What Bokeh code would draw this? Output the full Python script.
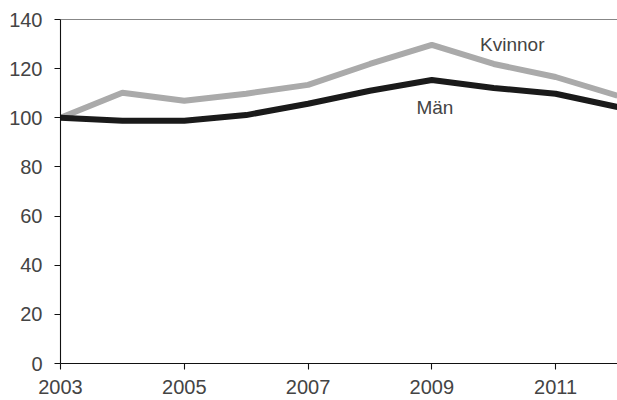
from bokeh.plotting import figure
from bokeh.models import Range1d, FixedTicker, Span
from bokeh.core.properties import value
from bokeh.embed import file_html
from bokeh.resources import INLINE

years = [2003, 2004, 2005, 2006, 2007, 2008, 2009, 2010, 2011, 2012]
kvinnor = [100, 110.2, 106.9, 109.8, 113.4, 121.9, 129.7, 121.9, 116.6, 109.0]
man = [100, 98.8, 98.8, 101.1, 105.7, 111.0, 115.4, 112.1, 109.8, 104.4]

x_ticks = [2003, 2005, 2007, 2009, 2011]
y_ticks = [0, 20, 40, 60, 80, 100, 120, 140]

label_texts = ["Kvinnor", "Män"]
label_x = [2010.3, 2009.05]
label_y = [129.8, 104.1]

FONT = "Liberation Sans"

p = figure(width=617, height=400, output_backend="svg", toolbar_location=None,
           x_range=Range1d(2003, 2012), y_range=Range1d(0, 140),
           min_border_left=60, min_border_right=0, min_border_top=19, min_border_bottom=37)
p.outline_line_color = None
p.xgrid.grid_line_color = None
p.ygrid.grid_line_color = None

for ax in (p.xaxis[0], p.yaxis[0]):
    ax.axis_line_color = "#111111"
    ax.axis_line_width = 1.1
    ax.major_tick_line_color = "#111111"
    ax.major_tick_line_width = 1.1
    ax.major_tick_out = 6
    ax.major_tick_in = 0
    ax.minor_tick_line_color = None
    ax.major_label_text_font = FONT
    ax.major_label_text_font_size = "20px"
    ax.major_label_text_color = "#444444"

p.xaxis[0].ticker = FixedTicker(ticks=x_ticks)
p.yaxis[0].ticker = FixedTicker(ticks=y_ticks)
p.xaxis[0].major_label_standoff = 10
p.yaxis[0].major_label_standoff = 12

p.add_layout(Span(location=140, dimension="width", line_color="#111111", line_width=1.1))

p.line(years, kvinnor, line_color="#aaaaaa", line_width=6)
p.line(years, man, line_color="#1a1a1a", line_width=6)

p.text(x=label_x, y=label_y, text=label_texts, text_font=value(FONT),
       text_font_size="19px", text_color="#444444", text_align="center",
       text_baseline="middle")

open("out.html", "w").write(file_html(p, INLINE))
